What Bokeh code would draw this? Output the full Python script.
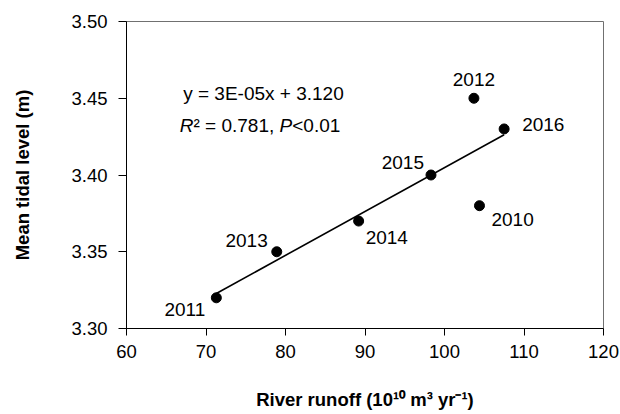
import numpy as np
from bokeh.plotting import figure
from bokeh.models import (ColumnDataSource, Range1d, FixedTicker, NumeralTickFormatter,
                          Label)
from bokeh.core.properties import value
from bokeh.embed import file_html
from bokeh.resources import INLINE

# Annual river runoff vs. mean tidal level
years = ["2010", "2011", "2012", "2013", "2014", "2015", "2016"]
runoff = [104.4, 71.3, 103.7, 78.9, 89.2, 98.3, 107.5]
tidal_level = [3.38, 3.32, 3.45, 3.35, 3.37, 3.40, 3.43]

x_ticks = [60, 70, 80, 90, 100, 110, 120]
y_ticks = [3.30, 3.35, 3.40, 3.45, 3.50]

equation_text = "y = 3E-05x + 3.120"
r2_text = "= 0.781, "
p_text = "<0.01"

# Year label placement around each point (pixels; y grows downward)
label_dx = [12, -11, 0, -9, 7, -7, 18]
label_dy = [14, 12, -19, -11, 16, -13, -4]
label_align = ["left", "right", "center", "right", "left", "right", "left"]

FONT = "Liberation Sans"
FS = "19px"

p = figure(width=620, height=414, output_backend="svg", toolbar_location=None,
           x_range=Range1d(60, 120), y_range=Range1d(3.30, 3.50),
           min_border_left=126, min_border_right=17, min_border_top=21,
           min_border_bottom=86)
p.background_fill_color = "white"
p.border_fill_color = "white"
p.xgrid.visible = False
p.ygrid.visible = False
p.outline_line_color = "#707070"
p.outline_line_width = 1

for ax in (p.xaxis[0], p.yaxis[0]):
    ax.axis_line_color = "black"
    ax.major_tick_line_color = "black"
    ax.minor_tick_line_color = None
    ax.major_tick_in = 0
    ax.major_label_text_font = FONT
    ax.major_label_text_font_size = "18.5px"
    ax.major_label_text_color = "black"
    ax.axis_label_text_font = FONT
    ax.axis_label_text_font_size = "18.5px"
    ax.axis_label_text_font_style = "bold"
    ax.axis_label_text_color = "black"

p.xaxis.ticker = FixedTicker(ticks=x_ticks)
p.yaxis.ticker = FixedTicker(ticks=y_ticks)
p.xaxis.formatter = NumeralTickFormatter(format="0")
p.yaxis.formatter = NumeralTickFormatter(format="0.00")
p.xaxis.major_tick_out = 7
p.yaxis.major_tick_out = 8
p.xaxis.major_label_standoff = 9
p.yaxis.major_label_standoff = 11
p.xaxis.axis_label = "River runoff (10\u00b9\u2070 m\u00b3 yr\u207b\u00b9)"
p.yaxis.axis_label = "Mean tidal level (m)"
p.xaxis.axis_label_standoff = 28
p.yaxis.axis_label_standoff = 35

# Least-squares trend line across the observed runoff span
slope, intercept = np.polyfit(runoff, tidal_level, 1)
fx = np.array([min(runoff), max(runoff)])
p.line(fx, slope * fx + intercept, line_color="black", line_width=1.6)

src = ColumnDataSource(dict(x=runoff, y=tidal_level, year=years,
                            dx=label_dx, dy=label_dy, align=label_align))
p.scatter("x", "y", source=src, size=10, fill_color="black", line_color="black")
p.text("x", "y", text="year", source=src, x_offset="dx", y_offset="dy",
       text_align="align", text_baseline="middle",
       text_font=value(FONT), text_font_size=FS, text_color="black")

# Regression equation and fit statistics
def note(txt, x, y, dx, style="normal"):
    p.add_layout(Label(x=x, y=y, x_offset=dx, text=txt, text_font=FONT,
                       text_font_size=FS, text_font_style=style,
                       text_color="black", text_baseline="middle",
                       text_align="left"))

note(equation_text, 67.13, 3.4531, 0)
note("R", 66.7, 3.432, 0, "italic")
note("\u00b2 " + r2_text, 66.7, 3.432, 13.7)
note("P", 66.7, 3.432, 99.8, "italic")
note(p_text, 66.7, 3.432, 112.5)

open("out.html", "w").write(file_html(p, INLINE))
